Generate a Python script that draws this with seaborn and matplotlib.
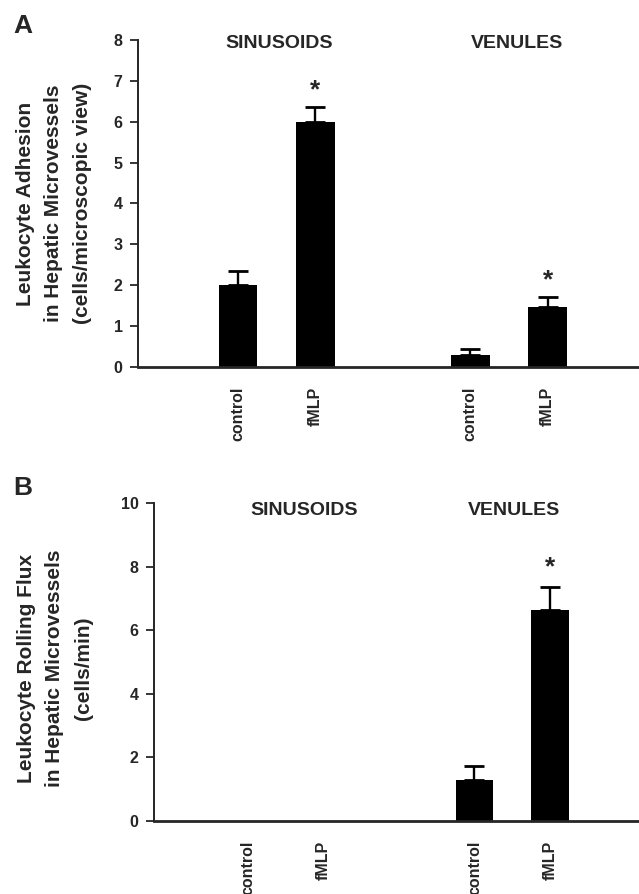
import matplotlib
matplotlib.use("Agg")
import matplotlib.pyplot as plt
import seaborn as sns
import pandas as pd
import numpy as np

# ---------------- data ----------------
vessels = ["SINUSOIDS", "VENULES"]
conditions = ["control", "fMLP"]

adhesion_mean = [2.0, 6.0, 0.3, 1.47]
adhesion_sem = [0.36, 0.36, 0.15, 0.25]
adhesion_sig = [False, True, False, True]

rolling_mean = [0.0, 0.0, 1.3, 6.63]
rolling_sem = [0.0, 0.0, 0.43, 0.73]
rolling_sig = [False, False, False, True]

adhesion_ylabel = "Leukocyte Adhesion\nin Hepatic Microvessels\n(cells/microscopic view)"
rolling_ylabel = "Leukocyte Rolling Flux\nin Hepatic Microvessels\n(cells/min)"

# ---------------- style ----------------
sns.set_style("ticks")
plt.rcParams["font.family"] = ["Liberation Sans", "DejaVu Sans"]
plt.rcParams["font.weight"] = "bold"

keys = [f"{v}|{c}" for v in vessels for c in conditions]
order = ["gap0", keys[0], keys[1], "gap1", keys[2], keys[3]]


def make_df(means, sems):
    return pd.DataFrame({
        "key": keys,
        "vessel": [v for v in vessels for _ in conditions],
        "condition": [c for _ in vessels for c in conditions],
        "mean": means,
        "sem": sems,
    })


def draw_panel(ax, df, sig, ymax, ystep, title_pos, title_y, ast_off, xlim):
    sns.barplot(data=df, x="key", y="mean", order=order, color="black",
                saturation=1, width=0.5, errorbar=None, ax=ax,
                edgecolor="none")
    # error bars (upper only) from bar positions
    for patch, (_, row), s in zip(ax.patches, df.iterrows(), sig):
        xc = patch.get_x() + patch.get_width() / 2
        if row["sem"] > 0:
            ax.errorbar([xc], [row["mean"]], yerr=[[0], [row["sem"]]],
                        fmt="none", ecolor="black", elinewidth=1.7,
                        capsize=7, capthick=2.0)
        if s:
            ax.annotate("*", xy=(xc, row["mean"] + row["sem"]),
                        xytext=(0, ast_off), textcoords="offset points",
                        ha="center", va="center", fontsize=19,
                        fontweight="bold")
    ticks = [order.index(k) for k in keys]
    ax.set_xticks(ticks)
    ax.set_xticklabels([c for _ in vessels for c in conditions],
                       rotation=90, fontsize=11.5, fontweight="bold")
    ax.tick_params(axis="x", length=0, pad=14)
    ax.tick_params(axis="y", length=6, width=1.3, pad=5, labelsize=11.5)
    for lab in ax.get_yticklabels():
        lab.set_fontweight("bold")
    ax.set_ylim(0, ymax)
    ax.set_yticks(np.arange(0, ymax + 0.01, ystep))
    ax.set_xlim(*xlim)
    ax.set_xlabel("")
    ax.set_ylabel("")
    sns.despine(ax=ax)
    ax.spines["left"].set_linewidth(1.4)
    ax.spines["bottom"].set_linewidth(2.0)
    for v, xp in zip(vessels, title_pos):
        ax.text(xp, title_y, v, ha="center", va="center", fontsize=14,
                fontweight="bold")


fig = plt.figure(figsize=(6.39, 8.94), dpi=100)
axA = fig.add_axes([0.216, 0.5895, 0.784, 0.3658])
axB = fig.add_axes([0.241, 0.0817, 0.759, 0.3557])

draw_panel(axA, make_df(adhesion_mean, adhesion_sem), adhesion_sig,
           8, 1, (1.53, 4.6), 7.92, 12, (-0.29, 6.18))
draw_panel(axB, make_df(rolling_mean, rolling_sem), rolling_sig,
           10, 2, (1.74, 4.52), 9.75, 14, (-0.245, 6.18))

fig.text(54 / 639, 1 - 203.5 / 894, adhesion_ylabel, rotation=90,
         ha="center", va="center", multialignment="center",
         fontsize=15, fontweight="bold", linespacing=1.65)
fig.text(55 / 639, 1 - 668 / 894, rolling_ylabel, rotation=90,
         ha="center", va="center", multialignment="center",
         fontsize=15, fontweight="bold", linespacing=1.65)

fig.text(13 / 639, 1 - 14 / 894, "A", ha="left", va="top",
         fontsize=19, fontweight="bold")
fig.text(13 / 639, 1 - 476 / 894, "B", ha="left", va="top",
         fontsize=19, fontweight="bold")

fig.savefig("out.png", dpi=100)
